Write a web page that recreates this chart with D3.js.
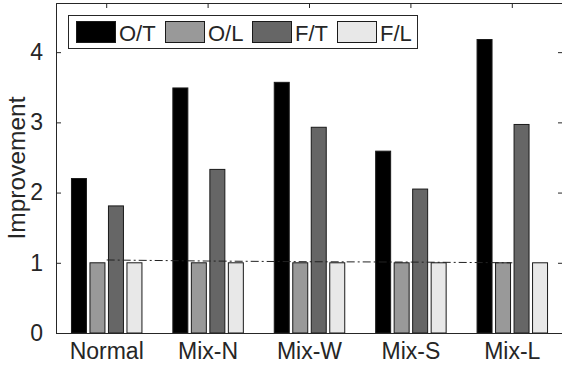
<!DOCTYPE html>
<html><head><meta charset="utf-8">
<script src="https://cdn.jsdelivr.net/npm/d3@7"></script>
<style>body{margin:0;background:#fff}svg{display:block}text{font-family:"Liberation Sans",Arial,sans-serif;fill:#262626}</style>
</head><body><svg id="c" width="562" height="367"></svg>
<script>
const categories = ["Normal","Mix-N","Mix-W","Mix-S","Mix-L"];
const series = ["O/T","O/L","F/T","F/L"];
const OT = [2.2, 3.49, 3.57, 2.59, 4.18];
const OL = [1.0, 1.0, 1.0, 1.0, 1.0];
const FT = [1.81, 2.33, 2.93, 2.05, 2.97];
const FL = [1.0, 1.0, 1.0, 1.0, 1.0];
const baseline = [1.04, 1.025, 1.015, 1.01, 1.0];
const yTicks = [0,1,2,3,4];
const colors = ["#000000","#999999","#666666","#e8e8e8"];
const values = [OT, OL, FT, FL];

const svg = d3.select("#c");
const L = 56, R = 563, T = 3, B = 333;
const x = d3.scaleBand().domain(categories).range([L, R]);
const xi = d3.scaleBand().domain(series).range([-37, 37]).paddingInner(0.19).paddingOuter(0.095);
const y = d3.scaleLinear().domain([0, 4.7]).range([B, T]);
const ink = "#262626";

// bars
series.forEach((s, si) => {
  svg.append("g").selectAll("rect").data(categories).join("rect")
    .attr("x", c => x(c) + x.bandwidth()/2 + xi(s))
    .attr("y", (c, i) => y(values[si][i]))
    .attr("width", xi.bandwidth())
    .attr("height", (c, i) => y(0) - y(values[si][i]))
    .attr("fill", colors[si])
    .attr("stroke", "#1a1a1a").attr("stroke-width", 1);
});

// dash-dot line
const line = d3.line().x((d, i) => x(categories[i]) + x.bandwidth()/2).y(d => y(d));
svg.append("path").datum(baseline).attr("d", line)
  .attr("fill", "none").attr("stroke", "#222").attr("stroke-width", 1)
  .attr("stroke-dasharray", "8,3,2,3");

// axes box
svg.append("g").attr("transform", `translate(${L},0)`)
  .call(d3.axisLeft(y).tickValues(yTicks).tickSize(-5).tickPadding(13).tickFormat(d3.format("d")))
  .call(g => { g.select(".domain").attr("stroke", ink); g.selectAll("line").attr("stroke", ink);
    g.selectAll("text").attr("font-size", 23).attr("fill", ink).style("font-family", "Liberation Sans, Arial"); });
svg.append("g").attr("transform", `translate(${R},0)`)
  .call(d3.axisRight(y).tickValues(yTicks).tickSize(-5).tickFormat(""))
  .call(g => { g.select(".domain").attr("stroke", ink); g.selectAll("line").attr("stroke", ink); });
svg.append("g").attr("transform", `translate(0,${T})`)
  .call(d3.axisTop(x).tickSize(-5).tickFormat(""))
  .call(g => { g.select(".domain").attr("stroke", ink); g.selectAll("line").attr("stroke", ink); });
svg.append("g").attr("transform", `translate(0,${B})`)
  .call(d3.axisBottom(x).tickSize(0).tickPadding(10))
  .call(g => { g.select(".domain").attr("stroke", ink);
    g.selectAll("text").attr("font-size", 23).attr("fill", ink).style("font-family", "Liberation Sans, Arial"); });

// y label
svg.append("text").attr("transform", "translate(25,168) rotate(-90)")
  .attr("text-anchor", "middle").attr("font-size", 24.5).text("Improvement");

// legend
const lg = svg.append("g");
lg.append("rect").attr("x", 68.5).attr("y", 15.5).attr("width", 349).attr("height", 33)
  .attr("fill", "#fff").attr("stroke", "#262626").attr("stroke-width", 1);
const lx = [76, 165, 252, 337];
series.forEach((s, i) => {
  lg.append("rect").attr("x", lx[i] + 0.5).attr("y", 21.5).attr("width", 39).attr("height", 21)
    .attr("fill", colors[i]).attr("stroke", "#1a1a1a").attr("stroke-width", 1);
  lg.append("text").attr("x", lx[i] + 43).attr("y", 40.5).attr("font-size", 22).text(s);
});
</script></body></html>
